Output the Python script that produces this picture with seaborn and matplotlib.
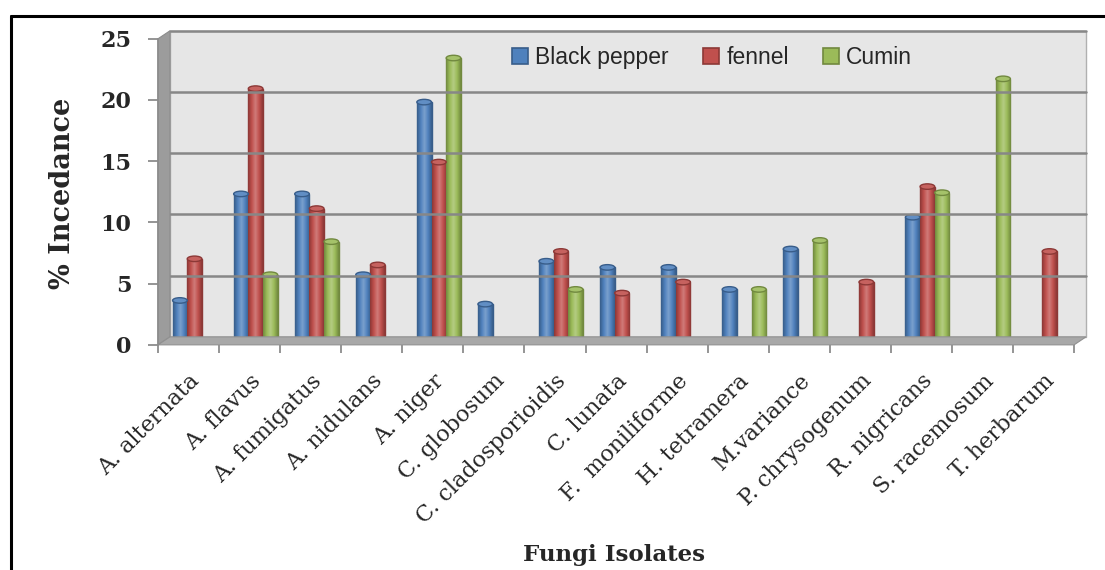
import numpy as np
import pandas as pd
import seaborn as sns
import matplotlib.pyplot as plt
from matplotlib.patches import Polygon, Ellipse
from matplotlib.lines import Line2D
from matplotlib.transforms import IdentityTransform, ScaledTranslation
from matplotlib.colors import LinearSegmentedColormap, to_rgb

# Data (NaN = no bar)
isolates = ["A. alternata", "A. flavus", "A. fumigatus", "A. nidulans", "A. niger",
            "C. globosum", "C. cladosporioidis", "C. lunata", "F.  moniliforme",
            "H. tetramera", "M.variance", "P. chrysogenum", "R. nigricans",
            "S. racemosum", "T. herbarum"]
black_pepper = [3.3, 12.0, 12.0, 5.4, 19.5, 3.0, 6.5, 6.0, 6.0, 4.2, 7.5, np.nan, 10.1, np.nan, np.nan]
fennel = [6.7, 20.6, 10.8, 6.2, 14.6, np.nan, 7.3, 3.9, 4.8, np.nan, np.nan, 4.8, 12.6, np.nan, 7.3]
cumin = [np.nan, 5.4, 8.1, np.nan, 23.1, np.nan, 4.2, np.nan, np.nan, 4.2, 8.2, np.nan, 12.1, 21.4, np.nan]
series = ["Black pepper", "fennel", "Cumin"]
colors = ["#4f81bd", "#c0504d", "#9bbb59"]
edges = ["#385d8a", "#8c3836", "#71893f"]
yticks = [0, 5, 10, 15, 20, 25]

df = pd.DataFrame({"isolate": isolates * 3,
                   "value": black_pepper + fennel + cumin,
                   "spice": sum([[s] * len(isolates) for s in series], [])})

sns.set_style("white")
fig = plt.figure(figsize=(11.05, 5.70), dpi=100)
ax = fig.add_axes([0.143, 0.395, 0.829, 0.537])
ax.set_facecolor("none")

sns.barplot(data=df, x="isolate", y="value", hue="spice", order=isolates,
            hue_order=series, palette=colors, width=0.72, saturation=1,
            errorbar=None, ax=ax, zorder=5)

# depth of the fake 3D box, in pixels; bars stand half way in
dx, dy = 12, 8
mid = ax.transData + ScaledTranslation(dx / 2 / fig.dpi, dy / 2 / fig.dpi,
                                       fig.dpi_scale_trans)


def lighten(c, f):
    r = np.array(to_rgb(c))
    return tuple(r + (1 - r) * f)


# cylinder-like shading on each bar
grad = np.linspace(0, 1, 64).reshape(1, -1)
for cont, col, ec in zip(ax.containers, colors, edges):
    cmap = LinearSegmentedColormap.from_list(
        "cyl", [ec, col, lighten(col, 0.25), col, ec])
    for bar in cont:
        h = bar.get_height()
        if not np.isfinite(h) or h <= 0:
            continue
        x, w = bar.get_x(), bar.get_width()
        bar.set_transform(mid)
        bar.set_edgecolor(ec)
        bar.set_linewidth(1.0)
        bar.set_zorder(5)
        im = ax.imshow(grad, extent=[x, x + w, 0, h], aspect="auto", cmap=cmap,
                       zorder=5.5, interpolation="bilinear")
        im.set_transform(mid)
        im.set_clip_path(bar)
        cap = Ellipse((x + w / 2, h), w, 0.45, facecolor=lighten(col, 0.1),
                      edgecolor=ec, lw=1.0, zorder=6)
        ax.add_patch(cap)
        cap.set_transform(mid)

n = len(isolates)
ax.set_xlim(-0.5, n - 0.5)
ax.set_ylim(0, 25)
for s in ax.spines.values():
    s.set_visible(False)

# pseudo 3D walls: back wall shifted by (dx, dy) pixels
to_px = ax.transData.transform
x0, x1 = -0.5, n - 0.5
fl, fr = to_px((x0, 0)), to_px((x1, 0))
tl = to_px((x0, 25))
back = Polygon([fl + [dx, dy], fr + [dx, dy], to_px((x1, 25)) + [dx, dy], tl + [dx, dy]],
               closed=True, transform=IdentityTransform(), facecolor="#e6e6e6",
               edgecolor="#b0b0b0", lw=1.0, zorder=0)
fig.add_artist(back)
for t in yticks[1:]:
    a, b = to_px((x0, t)) + [dx, dy], to_px((x1, t)) + [dx, dy]
    fig.add_artist(Line2D([a[0], b[0]], [a[1], b[1]], transform=IdentityTransform(),
                          color="#878787", lw=1.8, zorder=1))
side = Polygon([fl, fl + [dx, dy], tl + [dx, dy], tl], closed=True,
               transform=IdentityTransform(), facecolor="#9c9c9c",
               edgecolor="#8c8c8c", lw=0.8, zorder=2)
fig.add_artist(side)
floor = Polygon([fl, fr, fr + [dx, dy], fl + [dx, dy]], closed=True,
                transform=IdentityTransform(), facecolor="#a8a8a8",
                edgecolor="#909090", lw=0.8, zorder=2)
fig.add_artist(floor)
fig.add_artist(Line2D([fl[0], fl[0]], [fl[1], tl[1]], transform=IdentityTransform(),
                      color="#8c8c8c", lw=1.2, zorder=3))

# ticks
ax.set_yticks(yticks)
ax.set_yticklabels([str(t) for t in yticks], family="DejaVu Serif",
                   fontweight="bold", fontsize=16)
ax.tick_params(axis="y", which="major", length=7, width=1.3, color="#8c8c8c",
               pad=12, left=True)
ax.set_xticks(np.arange(n))
ax.set_xticklabels(isolates, family="DejaVu Serif", fontsize=16,
                   rotation=45, ha="right", rotation_mode="anchor")
ax.set_xticks(np.arange(n + 1) - 0.5, minor=True)
ax.tick_params(axis="x", which="major", length=0, pad=18)
ax.tick_params(axis="x", which="minor", length=6, width=1.3, color="#8c8c8c",
               bottom=True)
ax.set_xlabel("")
ax.set_ylabel("")

leg = ax.legend(loc="upper center", bbox_to_anchor=(0.605, 1.045), ncol=3,
                frameon=False, handlelength=0.7, handleheight=0.7,
                handletextpad=0.3, columnspacing=1.5,
                prop={"family": "Liberation Sans", "size": 16.5})
for h, ec in zip(leg.legend_handles, edges):
    h.set_edgecolor(ec)
    h.set_linewidth(1.2)

fig.text(0.057, 0.661, "% Incedance", rotation=90, ha="center", va="center",
         family="DejaVu Serif", fontweight="bold", fontsize=19.5)
fig.text(0.556, 0.026, "Fungi Isolates", ha="center", va="center",
         family="DejaVu Serif", fontweight="bold", fontsize=16.5)

# outer frame (top and left edges)
fig.add_artist(Line2D([0.01, 1.0], [0.972, 0.972], transform=fig.transFigure,
                      color="black", lw=2.2))
fig.add_artist(Line2D([0.01, 0.01], [0.0, 0.972], transform=fig.transFigure,
                      color="black", lw=2.2))

fig.savefig("out.png", dpi=100)
